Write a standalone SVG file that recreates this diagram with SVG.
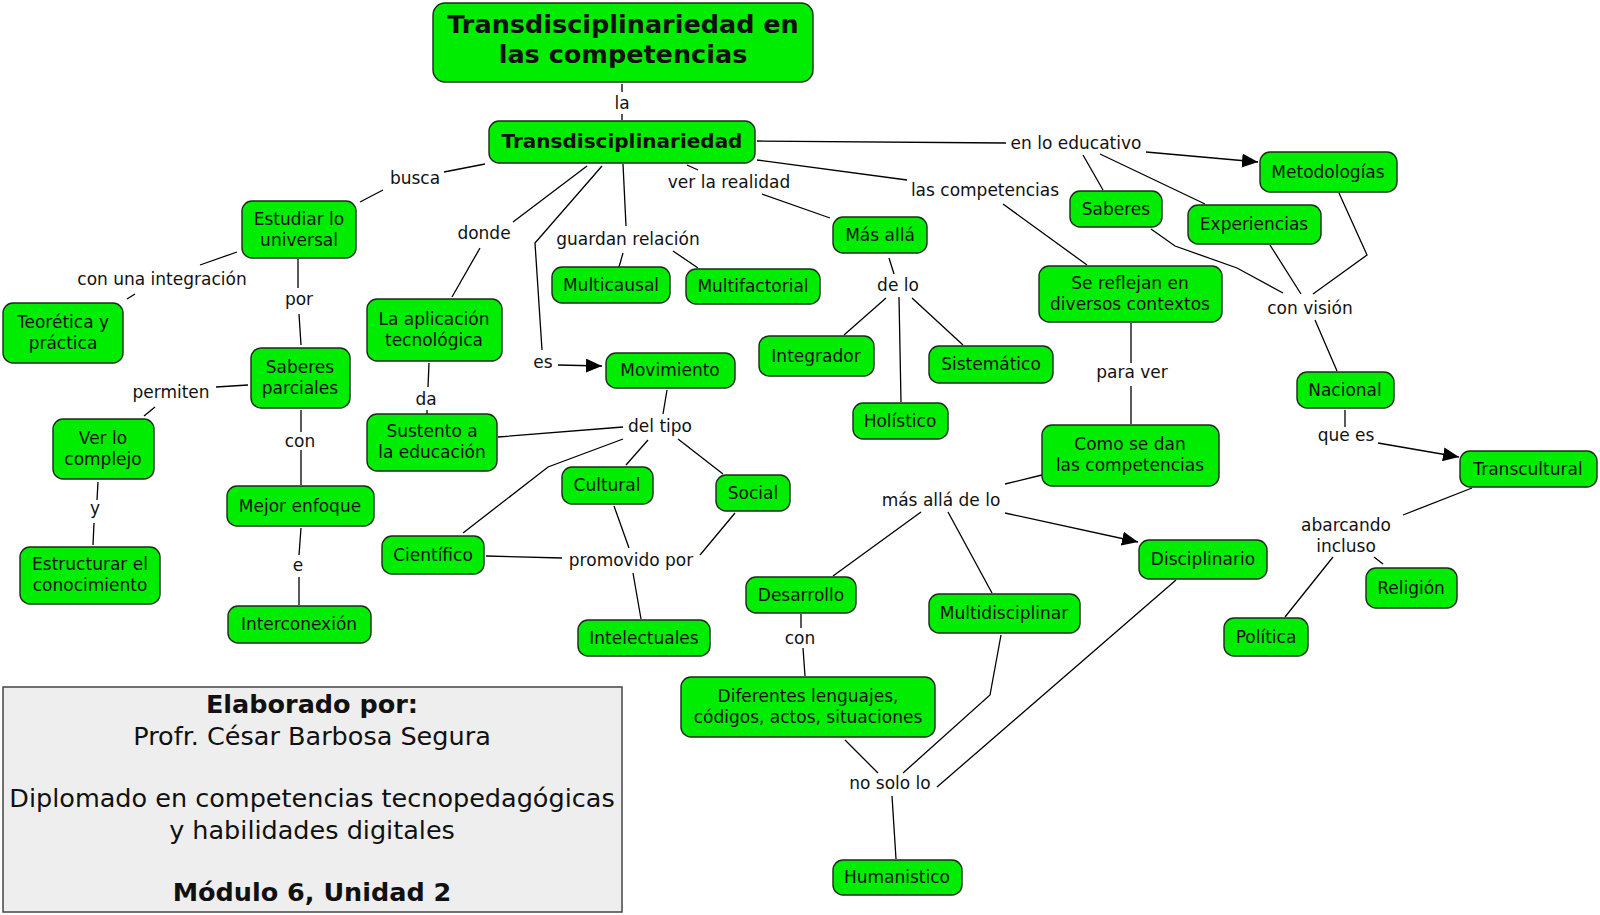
<svg xmlns="http://www.w3.org/2000/svg" width="1600" height="915" viewBox="0 0 1600 915">
<style>
text{font-family:"DejaVu Sans",Verdana,sans-serif;font-size:17px;fill:#111;text-anchor:middle}
.n rect{fill:#00ec00;stroke:#1a2a1a;stroke-width:1.4}
.b{font-weight:bold}
#links path{fill:none;stroke:#000;stroke-width:1.3}
.foot{font-size:25.5px}
</style>
<defs>
<marker id="ar" markerUnits="userSpaceOnUse" markerWidth="16" markerHeight="14" refX="16" refY="7" orient="auto"><path d="M0,0 L16,7 L0,14 z" fill="#000"/></marker>
</defs>
<rect width="1600" height="915" fill="#fff"/>
<g id="links">
<path d="M622,84 V92 M622,114 V120"/>
<path d="M485,164 L444,172 M383,190 L360,202"/>
<path d="M237,252 L200,265 M135,294 L127,299"/>
<path d="M298,259 L298,288 M299,314 L301,345"/>
<path d="M248,385 L216,387 M155,407 L144,416"/>
<path d="M98,482 L97,500 M94,523 L93,545"/>
<path d="M301,410 L301,432 M301,450 L301,485"/>
<path d="M301,528 L299,555 M299,577 L299,605"/>
<path d="M587,166 L513,222 M480,248 L452,297"/>
<path d="M429,363 L428,387 M427,410 L427,414"/>
<path d="M602,166 L535,243 L542,350"/>
<path d="M558,365 L602,366" marker-end="url(#ar)"/>
<path d="M623,164 L626,226 M623,253 L619,267 M673,251 L698,268"/>
<path d="M687,165 L698,170 M762,194 L830,218"/>
<path d="M889,258 L894,274 M886,298 L844,335 M899,297 L901,402 M912,298 L963,345"/>
<path d="M757,160 L907,180 M1003,204 L1087,265"/>
<path d="M757,141 L1006,143 M1083,155 L1103,190 M1100,154 L1205,204"/>
<path d="M1146,152 L1258,162" marker-end="url(#ar)"/>
<path d="M667,390 L663,414 M623,427 L498,437 M623,439 L548,467 L463,533 M648,440 L626,465 M678,439 L723,474"/>
<path d="M486,556 L562,558 M614,506 L629,548 M735,513 L700,555 M633,573 L641,619"/>
<path d="M1131,323 L1131,363 M1131,386 L1131,424"/>
<path d="M1151,229 L1175,246 L1237,268 L1283,293 M1270,245 L1301,294 M1339,193 L1367,255 L1313,294 M1315,320 L1337,371"/>
<path d="M1345,410 L1345,427"/>
<path d="M1378,443 L1459,457" marker-end="url(#ar)"/>
<path d="M1472,488 L1403,515 M1333,557 L1285,617 M1374,557 L1383,564"/>
<path d="M1005,484 L1042,475 M921,512 L833,576 M948,512 L992,593"/>
<path d="M1005,513 L1138,542" marker-end="url(#ar)"/>
<path d="M801,614 L801,628 M803,648 L805,676"/>
<path d="M1001,635 L990,695 L903,773 M845,740 L878,773 M1176,580 L937,787 M892,796 L896,859"/>
</g>
<g id="link-labels">
<text x="622" y="109">la</text>
<text x="415" y="184">busca</text>
<text x="162" y="285">con una integración</text>
<text x="299" y="305">por</text>
<text x="171" y="398">permiten</text>
<text x="95" y="514">y</text>
<text x="300" y="447">con</text>
<text x="298" y="571">e</text>
<text x="484" y="239">donde</text>
<text x="426" y="405">da</text>
<text x="543" y="368">es</text>
<text x="628" y="245">guardan relación</text>
<text x="729" y="188">ver la realidad</text>
<text x="898" y="291">de lo</text>
<text x="985" y="196">las competencias</text>
<text x="1076" y="149">en lo educativo</text>
<text x="660" y="432">del tipo</text>
<text x="631" y="566">promovido por</text>
<text x="1132" y="378">para ver</text>
<text x="1310" y="314">con visión</text>
<text x="1346" y="441">que es</text>
<text x="1346" y="531">abarcando</text>
<text x="1346" y="552">incluso</text>
<text x="941" y="506">más allá de lo</text>
<text x="800" y="644">con</text>
<text x="890" y="789">no solo lo</text>
</g>
<g id="n-title" class="n"><rect x="433" y="3" width="380" height="79" rx="12"/><text class="b" x="623" y="33" style="font-size:25.5px">Transdisciplinariedad en</text><text class="b" x="623" y="63" style="font-size:25.5px">las competencias</text></g>
<g id="n-transdisc" class="n"><rect x="489" y="121" width="266" height="42" rx="10"/><text class="b" x="622" y="148" style="font-size:20px">Transdisciplinariedad</text></g>
<g id="n-estudiar" class="n"><rect x="242" y="201" width="114" height="57" rx="10"/><text x="299" y="225">Estudiar lo</text><text x="299" y="246">universal</text></g>
<g id="n-teoretica" class="n"><rect x="3" y="303" width="120" height="60" rx="10"/><text x="63" y="328">Teorética y</text><text x="63" y="349">práctica</text></g>
<g id="n-saberesp" class="n"><rect x="251" y="348" width="99" height="60" rx="10"/><text x="300" y="373">Saberes</text><text x="300" y="394">parciales</text></g>
<g id="n-verlo" class="n"><rect x="53" y="419" width="101" height="60" rx="10"/><text x="103" y="444">Ver lo</text><text x="103" y="465">complejo</text></g>
<g id="n-estructurar" class="n"><rect x="20" y="547" width="140" height="57" rx="10"/><text x="90" y="570">Estructurar el</text><text x="90" y="591">conocimiento</text></g>
<g id="n-mejor" class="n"><rect x="227" y="486" width="147" height="40" rx="10"/><text x="300" y="512">Mejor enfoque</text></g>
<g id="n-interconexion" class="n"><rect x="228" y="606" width="143" height="37" rx="10"/><text x="299" y="630">Interconexión</text></g>
<g id="n-aplicacion" class="n"><rect x="367" y="299" width="135" height="62" rx="10"/><text x="434" y="325">La aplicación</text><text x="434" y="346">tecnológica</text></g>
<g id="n-sustento" class="n"><rect x="367" y="414" width="130" height="57" rx="10"/><text x="432" y="437">Sustento a</text><text x="432" y="458">la educación</text></g>
<g id="n-multicausal" class="n"><rect x="552" y="267" width="118" height="36" rx="10"/><text x="611" y="291">Multicausal</text></g>
<g id="n-multifactorial" class="n"><rect x="686" y="269" width="134" height="35" rx="10"/><text x="753" y="292">Multifactorial</text></g>
<g id="n-movimiento" class="n"><rect x="606" y="353" width="129" height="35" rx="10"/><text x="670" y="376">Movimiento</text></g>
<g id="n-cultural" class="n"><rect x="562" y="467" width="91" height="37" rx="10"/><text x="607" y="491">Cultural</text></g>
<g id="n-social" class="n"><rect x="716" y="475" width="74" height="36" rx="10"/><text x="753" y="499">Social</text></g>
<g id="n-cientifico" class="n"><rect x="382" y="536" width="102" height="38" rx="10"/><text x="433" y="561">Científico</text></g>
<g id="n-intelectuales" class="n"><rect x="578" y="620" width="132" height="36" rx="10"/><text x="644" y="644">Intelectuales</text></g>
<g id="n-masalla" class="n"><rect x="833" y="217" width="94" height="36" rx="10"/><text x="880" y="241">Más allá</text></g>
<g id="n-integrador" class="n"><rect x="759" y="336" width="115" height="40" rx="10"/><text x="816" y="362">Integrador</text></g>
<g id="n-holistico" class="n"><rect x="853" y="403" width="95" height="36" rx="10"/><text x="900" y="427">Holístico</text></g>
<g id="n-sistematico" class="n"><rect x="929" y="346" width="124" height="37" rx="10"/><text x="991" y="370">Sistemático</text></g>
<g id="n-saberes" class="n"><rect x="1070" y="191" width="92" height="36" rx="10"/><text x="1116" y="215">Saberes</text></g>
<g id="n-experiencias" class="n"><rect x="1188" y="205" width="133" height="39" rx="10"/><text x="1254" y="230">Experiencias</text></g>
<g id="n-metodologias" class="n"><rect x="1260" y="152" width="137" height="40" rx="10"/><text x="1328" y="178">Metodologías</text></g>
<g id="n-sereflejan" class="n"><rect x="1039" y="266" width="183" height="56" rx="10"/><text x="1130" y="289">Se reflejan en</text><text x="1130" y="310">diversos contextos</text></g>
<g id="n-comosedan" class="n"><rect x="1042" y="425" width="177" height="61" rx="10"/><text x="1130" y="450">Como se dan</text><text x="1130" y="471">las competencias</text></g>
<g id="n-nacional" class="n"><rect x="1297" y="372" width="97" height="36" rx="10"/><text x="1345" y="396">Nacional</text></g>
<g id="n-transcultural" class="n"><rect x="1460" y="451" width="137" height="36" rx="10"/><text x="1528" y="475">Transcultural</text></g>
<g id="n-religion" class="n"><rect x="1366" y="568" width="91" height="40" rx="10"/><text x="1411" y="594">Religión</text></g>
<g id="n-politica" class="n"><rect x="1224" y="618" width="84" height="38" rx="10"/><text x="1266" y="643">Política</text></g>
<g id="n-disciplinario" class="n"><rect x="1139" y="540" width="128" height="39" rx="10"/><text x="1203" y="565">Disciplinario</text></g>
<g id="n-desarrollo" class="n"><rect x="746" y="577" width="110" height="36" rx="10"/><text x="801" y="601">Desarrollo</text></g>
<g id="n-multidisciplinar" class="n"><rect x="929" y="594" width="151" height="39" rx="10"/><text x="1004" y="619">Multidisciplinar</text></g>
<g id="n-diferentes" class="n"><rect x="681" y="677" width="254" height="60" rx="10"/><text x="808" y="702">Diferentes lenguajes,</text><text x="808" y="723">códigos, actos, situaciones</text></g>
<g id="n-humanistico" class="n"><rect x="833" y="860" width="129" height="35" rx="10"/><text x="897" y="883">Humanistico</text></g>
<g id="footer">
<rect x="3" y="687" width="619" height="225" fill="#eeeeee" stroke="#444" stroke-width="1.5"/>
<text class="foot b" x="312" y="713">Elaborado por:</text>
<text class="foot" x="312" y="745">Profr. César Barbosa Segura</text>
<text class="foot" x="312" y="807">Diplomado en competencias tecnopedagógicas</text>
<text class="foot" x="312" y="839">y habilidades digitales</text>
<text class="foot b" x="312" y="901">Módulo 6, Unidad 2</text>
</g>
</svg>
